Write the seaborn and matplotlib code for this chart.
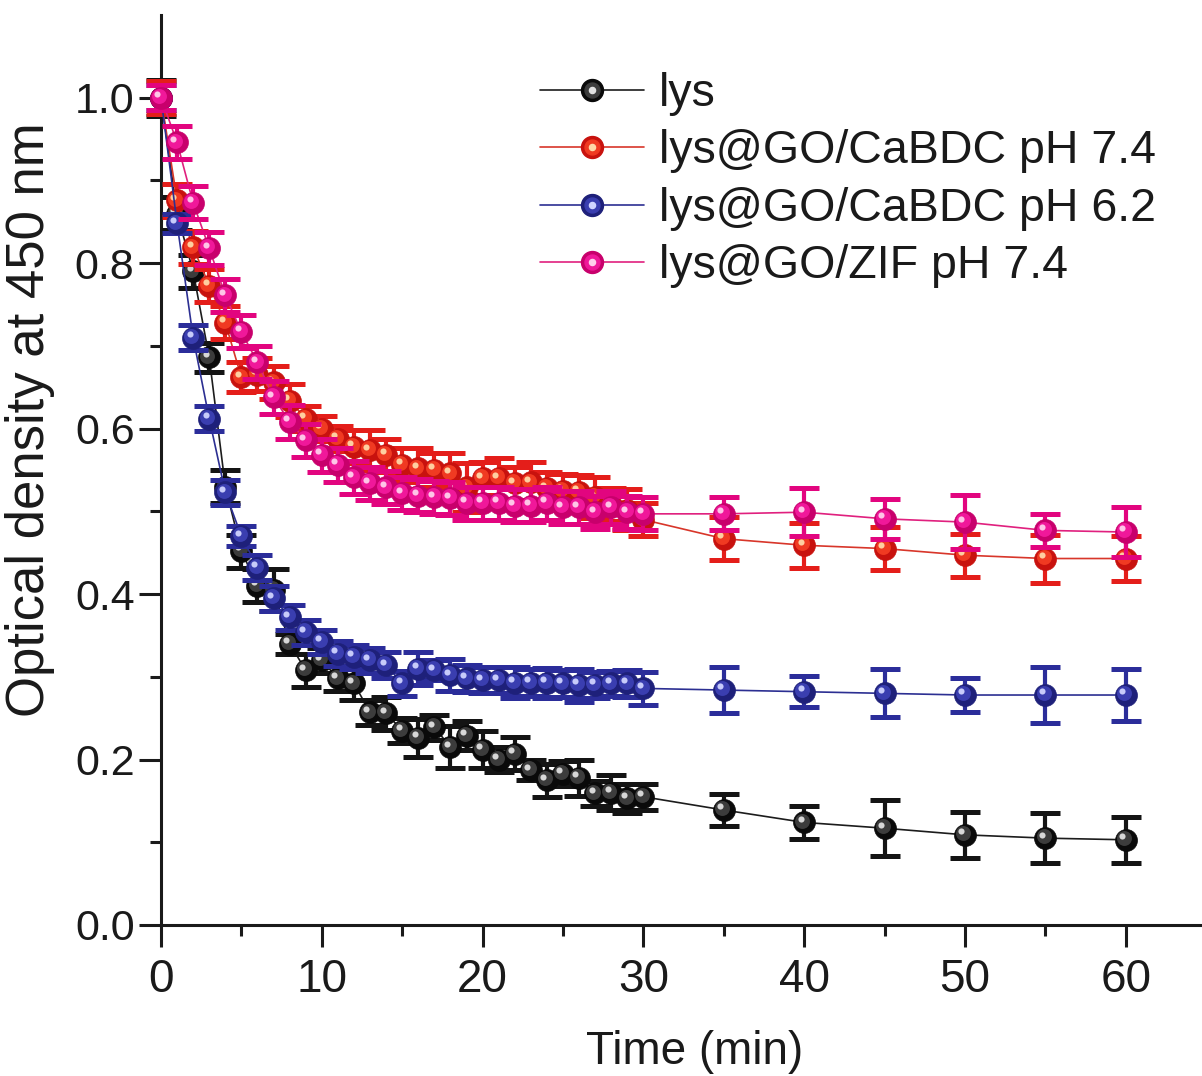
import numpy as np
import pandas as pd
import matplotlib
matplotlib.use("Agg")
import matplotlib.pyplot as plt
import seaborn as sns
from matplotlib.transforms import offset_copy
from matplotlib.ticker import FixedLocator
from matplotlib.lines import Line2D
from matplotlib.legend_handler import HandlerTuple

# ---------------- data ----------------
time = list(range(0, 31)) + [35, 40, 45, 50, 55, 60]

lys = [1.00, 0.86, 0.79, 0.686, 0.53, 0.452, 0.41, 0.405, 0.34, 0.308,
       0.32, 0.298, 0.292, 0.257, 0.256, 0.235, 0.226, 0.239, 0.215, 0.229,
       0.212, 0.200, 0.207, 0.187, 0.175, 0.183, 0.178, 0.159, 0.160, 0.153,
       0.155, 0.139, 0.124, 0.117, 0.109, 0.105, 0.103]
lys_err = [0.022, 0.02, 0.02, 0.018, 0.02, 0.02, 0.02, 0.025, 0.012, 0.02,
           0.015, 0.015, 0.02, 0.015, 0.02, 0.015, 0.023, 0.015, 0.025, 0.018,
           0.022, 0.015, 0.02, 0.012, 0.02, 0.015, 0.022, 0.015, 0.021, 0.018,
           0.016, 0.019, 0.02, 0.034, 0.028, 0.03, 0.028]

ca74 = [1.00, 0.876, 0.819, 0.773, 0.728, 0.662, 0.665, 0.656, 0.634, 0.612,
        0.600, 0.588, 0.578, 0.574, 0.568, 0.556, 0.552, 0.550, 0.546, 0.529,
        0.540, 0.540, 0.534, 0.535, 0.528, 0.525, 0.524, 0.517, 0.508, 0.502,
        0.490, 0.467, 0.459, 0.455, 0.447, 0.443, 0.443]
ca74_err = [0.02, 0.02, 0.02, 0.02, 0.02, 0.018, 0.02, 0.02, 0.02, 0.015,
            0.015, 0.015, 0.02, 0.024, 0.02, 0.02, 0.025, 0.02, 0.025, 0.03,
            0.02, 0.025, 0.02, 0.025, 0.02, 0.02, 0.02, 0.025, 0.02, 0.025,
            0.02, 0.026, 0.027, 0.026, 0.026, 0.029, 0.027]

ca62 = [1.00, 0.848, 0.710, 0.612, 0.523, 0.470, 0.432, 0.395, 0.372, 0.354,
        0.342, 0.328, 0.324, 0.320, 0.314, 0.292, 0.310, 0.308, 0.302, 0.298,
        0.296, 0.296, 0.293, 0.293, 0.293, 0.292, 0.290, 0.290, 0.292, 0.292,
        0.286, 0.284, 0.282, 0.280, 0.278, 0.278, 0.278]
ca62_err = [0.015, 0.012, 0.015, 0.015, 0.015, 0.012, 0.015, 0.015, 0.015, 0.015,
            0.015, 0.015, 0.015, 0.015, 0.016, 0.015, 0.02, 0.012, 0.019, 0.016,
            0.016, 0.016, 0.019, 0.016, 0.018, 0.016, 0.02, 0.016, 0.015, 0.016,
            0.02, 0.028, 0.019, 0.029, 0.02, 0.034, 0.031]

zif74 = [1.00, 0.946, 0.873, 0.818, 0.761, 0.717, 0.680, 0.638, 0.608, 0.586,
         0.568, 0.556, 0.541, 0.534, 0.529, 0.522, 0.519, 0.517, 0.516, 0.510,
         0.510, 0.510, 0.507, 0.507, 0.510, 0.505, 0.505, 0.499, 0.505, 0.499,
         0.497, 0.497, 0.499, 0.491, 0.487, 0.477, 0.475]
zif74_err = [0.015, 0.02, 0.02, 0.02, 0.02, 0.02, 0.02, 0.02, 0.02, 0.02,
             0.02, 0.02, 0.02, 0.02, 0.02, 0.02, 0.02, 0.02, 0.02, 0.02,
             0.02, 0.02, 0.02, 0.02, 0.02, 0.02, 0.02, 0.02, 0.02, 0.02,
             0.02, 0.02, 0.029, 0.024, 0.033, 0.02, 0.03]

labels = ["lys", "lys@GO/CaBDC pH 7.4", "lys@GO/CaBDC pH 6.2", "lys@GO/ZIF pH 7.4"]
series = [lys, ca74, ca62, zif74]
errors = [lys_err, ca74_err, ca62_err, zif74_err]

# style per series: line, error-bar colour, ball base, ball mid, highlight
line_cols = ["#1c1c1c", "#d8362a", "#2c2f92", "#e0207e"]
err_cols = ["#141414", "#e41e1a", "#2b2d9a", "#e2057f"]
ball_dark = ["#0a0a0a", "#c8120e", "#1e207a", "#c8006c"]
ball_mid = ["#3c3c3c", "#f03a22", "#3a3eb0", "#f0189a"]
ball_hi = ["#e0e0e0", "#ffd8a8", "#d0d4ff", "#ffd0ec"]

# ---------------- figure ----------------
sns.set_theme(style="ticks")
plt.rcParams["font.family"] = ["Liberation Sans", "DejaVu Sans"]

W, H = 1202, 1076
fig = plt.figure(figsize=(W / 100, H / 100), dpi=100)
ax = fig.add_axes([161 / W, 1 - 925 / H, (1200 - 161) / W, (925 - 15) / H])

MS = 15.8  # ball diameter in points

for i, (vals, err) in enumerate(zip(series, errors)):
    df = pd.DataFrame({"t": time, "v": vals, "e": err})
    z = 2 + i * 5
    sns.lineplot(data=df, x="t", y="v", ax=ax, color=line_cols[i], lw=1.2,
                 zorder=z, legend=False, clip_on=False)
    ax.errorbar(df["t"], df["v"], yerr=df["e"], fmt="none", ecolor=err_cols[i],
                elinewidth=3.0, capsize=10.5, capthick=3.6, zorder=z + 1,
                clip_on=False)
    sns.scatterplot(data=df, x="t", y="v", ax=ax, s=MS ** 2, color=ball_dark[i],
                    edgecolor=ball_dark[i], linewidth=0.5, zorder=z + 2,
                    legend=False, clip_on=False)
    tr1 = offset_copy(ax.transData, fig=fig, x=-1.3, y=1.3, units="points")
    sns.scatterplot(data=df, x="t", y="v", ax=ax, s=(MS * 0.68) ** 2,
                    color=ball_mid[i], linewidth=0, zorder=z + 3, legend=False,
                    transform=tr1, clip_on=False)
    tr2 = offset_copy(ax.transData, fig=fig, x=-2.6, y=2.6, units="points")
    sns.scatterplot(data=df, x="t", y="v", ax=ax, s=(MS * 0.28) ** 2,
                    color=ball_hi[i], linewidth=0, zorder=z + 4, legend=False,
                    transform=tr2, clip_on=False, alpha=0.95)

ax.set_xlim(0, (1200 - 161) / 16.08)
ax.set_ylim(0, 1.1)

ax.xaxis.set_major_locator(FixedLocator([0, 10, 20, 30, 40, 50, 60]))
ax.xaxis.set_minor_locator(FixedLocator([5, 15, 25, 35, 45, 55]))
ax.yaxis.set_major_locator(FixedLocator([0.0, 0.2, 0.4, 0.6, 0.8, 1.0]))
ax.yaxis.set_minor_locator(FixedLocator([0.1, 0.3, 0.5, 0.7, 0.9]))
ax.set_yticklabels(["0.0", "0.2", "0.4", "0.6", "0.8", "1.0"])

for s in ["top", "right"]:
    ax.spines[s].set_visible(False)
for s in ["left", "bottom"]:
    ax.spines[s].set_linewidth(2.2)
    ax.spines[s].set_color("#1a1a1a")

ax.tick_params(axis="both", which="major", direction="out", length=16, width=2.2,
               color="#1a1a1a")
ax.tick_params(axis="both", which="minor", direction="out", length=8, width=2.2,
               color="#1a1a1a")
ax.tick_params(axis="x", which="major", pad=8)
ax.tick_params(axis="y", which="major", pad=3)

for lab in ax.get_xticklabels():
    lab.set_fontsize(33)
    lab.set_color("#1a1a1a")
for lab in ax.get_yticklabels():
    lab.set_fontsize(31)
    lab.set_color("#1a1a1a")

ax.set_xlabel("Time (min)", fontsize=33, color="#1a1a1a")
ax.set_ylabel("Optical density at 450 nm", fontsize=38, color="#1a1a1a")
ax.xaxis.set_label_coords((695 - 161) / 1039, (925 - 1030) / 910)
ax.yaxis.set_label_coords((55 - 161) / 1039, (925 - 420) / 910)

# legend
handles = []
for i in range(4):
    base = Line2D([], [], color=line_cols[i], lw=1.2, marker="o", markersize=MS,
                  markerfacecolor=ball_dark[i], markeredgecolor=ball_dark[i])
    mid = Line2D([], [], ls="none", marker="o", markersize=MS * 0.68,
                 color=ball_mid[i])
    hi = Line2D([], [], ls="none", marker="o", markersize=MS * 0.28,
                color=ball_hi[i])
    handles.append((base, mid, hi))
fig.legend(handles, labels, handler_map={tuple: HandlerTuple(ndivide=1, pad=0)},
           loc="upper left", bbox_to_anchor=(540 / W, 1 - 72 / H), frameon=False,
           fontsize=33.5, handlelength=2.24, handletextpad=0.32, labelspacing=0.29,
           borderpad=0, borderaxespad=0, labelcolor="#1a1a1a")

fig.savefig("out.png", dpi=100, facecolor="white")
